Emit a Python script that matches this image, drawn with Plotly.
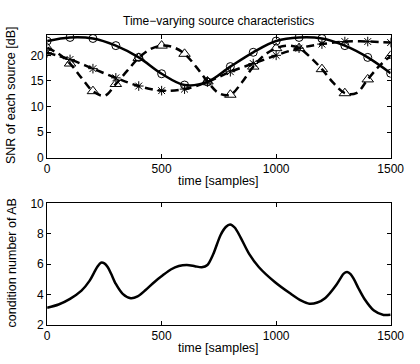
import plotly.graph_objects as go

# --- data ---
t100 = [0, 100, 200, 300, 400, 500, 600, 700, 800, 900, 1000, 1100, 1200, 1300, 1400, 1500]
snr_circle = [22.8, 23.5, 23.3, 21.9, 19.6, 16.4, 14.2, 14.8, 17.8, 20.6, 22.8, 23.5, 23.3, 21.9, 19.6, 16.5]
snr_star = [20.5, 19.2, 17.4, 15.6, 14.0, 13.1, 13.4, 14.8, 16.8, 18.4, 20.0, 21.4, 22.2, 22.7, 22.7, 22.5]

t50 = [0, 50, 100, 150, 200, 250, 300, 350, 400, 450, 500, 550, 600, 650, 700, 750,
       800, 850, 900, 950, 1000, 1050, 1100, 1150, 1200, 1250, 1300, 1350, 1400, 1450, 1500]
snr_tri = [21.5, 20.3, 18.4, 15.6, 13.0, 12.1, 14.4, 17.0, 19.5, 21.2, 21.9, 21.6, 20.3, 17.8, 14.9, 12.6,
           12.3, 14.7, 17.8, 20.1, 21.4, 21.9, 21.4, 19.6, 17.3, 14.6, 12.6, 12.6, 15.3, 17.9, 19.9]

t_cond = [0, 50, 100, 150, 185, 205, 220, 235, 250, 265, 280, 300, 330, 365, 395, 430, 470, 505, 540, 575, 610,
          645, 675, 700, 725, 757, 780, 799, 820, 845, 882, 925, 994, 1064, 1110, 1145, 1180, 1215,
          1260, 1280, 1295, 1310, 1325, 1340, 1360, 1385, 1427, 1469, 1500]
cond = [3.14, 3.35, 3.72, 4.26, 4.9, 5.45, 5.85, 6.1, 6.05, 5.8, 5.35, 4.7, 4.05, 3.76, 3.88, 4.3, 4.85, 5.27, 5.65, 5.88, 5.95,
        5.87, 5.8, 5.95, 6.65, 7.91, 8.45, 8.62, 8.4, 7.75, 6.68, 5.8, 4.83, 4.05, 3.6, 3.40, 3.48, 3.78,
        4.58, 5.05, 5.38, 5.48, 5.35, 5.0, 4.4, 3.73, 2.95, 2.66, 2.68]

x_ticks = [0, 500, 1000, 1500]
y1_ticks = [0, 5, 10, 15, 20]
y2_ticks = [2, 4, 6, 8, 10]

FONT = "Liberation Sans, Arial, sans-serif"
BLACK = "black"
DASH = "8px,5px"

fig = go.Figure()

# top panel
fig.add_trace(go.Scatter(x=t100, y=snr_circle, mode="lines+markers", line=dict(color=BLACK, width=2.5, shape="spline"),
                         marker=dict(symbol="circle-open", size=8, color=BLACK, line=dict(width=1)),
                         xaxis="x", yaxis="y", showlegend=False))
fig.add_trace(go.Scatter(x=t100, y=snr_star, mode="lines+markers", line=dict(color=BLACK, width=2.5, shape="spline", dash=DASH),
                         marker=dict(symbol="asterisk-open", size=8, color=BLACK, line=dict(width=1, color=BLACK)),
                         xaxis="x", yaxis="y", showlegend=False))
fig.add_trace(go.Scatter(x=t50, y=snr_tri, mode="lines", line=dict(color=BLACK, width=2.5, shape="spline", dash=DASH),
                         xaxis="x", yaxis="y", showlegend=False))
fig.add_trace(go.Scatter(x=t50[::2], y=snr_tri[::2], mode="markers",
                         marker=dict(symbol="triangle-up-open", size=10, color=BLACK, line=dict(width=1)),
                         xaxis="x", yaxis="y", showlegend=False))

# bottom panel
fig.add_trace(go.Scatter(x=t_cond, y=cond, mode="lines", line=dict(color=BLACK, width=2.5, shape="spline", smoothing=0.8),
                         xaxis="x2", yaxis="y2", showlegend=False))

axis_common = dict(showline=True, linecolor=BLACK, linewidth=1, mirror="ticks", ticks="inside", ticklen=4,
                   tickcolor=BLACK, showgrid=False, zeroline=False, tickfont=dict(size=12, color=BLACK, family=FONT))

W, H = 420, 364
x0, x1 = 46 / W, 404 / W
xc = (x0 + x1) / 2
lab = dict(size=12.5, family=FONT, color=BLACK)


def ann(text, x, y, angle=0):
    return dict(text=text, x=x, y=y, xref="paper", yref="paper", showarrow=False, font=lab,
                xanchor="center", yanchor="middle", textangle=angle)


fig.update_layout(
    width=W, height=H, margin=dict(l=0, r=0, t=0, b=0),
    paper_bgcolor="white", plot_bgcolor="white",
    font=dict(family=FONT, size=12, color=BLACK),
    xaxis=dict(domain=[x0, x1], range=[0, 1500], tickvals=x_ticks, anchor="y", **axis_common),
    yaxis=dict(domain=[1 - 156.7 / H, 1 - 29 / H], range=[0, 24], tickvals=y1_ticks, anchor="x", **axis_common),
    xaxis2=dict(domain=[x0, x1], range=[0, 1500], tickvals=x_ticks, anchor="y2", **axis_common),
    yaxis2=dict(domain=[1 - 330.7 / H, 1 - 204.3 / H], range=[2, 10], tickvals=y2_ticks, anchor="x2", **axis_common),
    annotations=[
        dict(text="Time\u2212varying source characteristics", x=xc, y=1 - 15 / H,
             xref="paper", yref="paper", showarrow=False, font=dict(size=12, family=FONT, color=BLACK),
             xanchor="center", yanchor="middle"),
        ann("time [samples]", xc, 1 - 181 / H),
        ann("time [samples]", xc, 1 - 355 / H),
        ann("SNR of each source [dB]", 9 / W, 1 - 92 / H, -90),
        ann("condition number of AB", 9 / W, 1 - 266 / H, -90),
    ],
)

fig.write_html("out.html")
